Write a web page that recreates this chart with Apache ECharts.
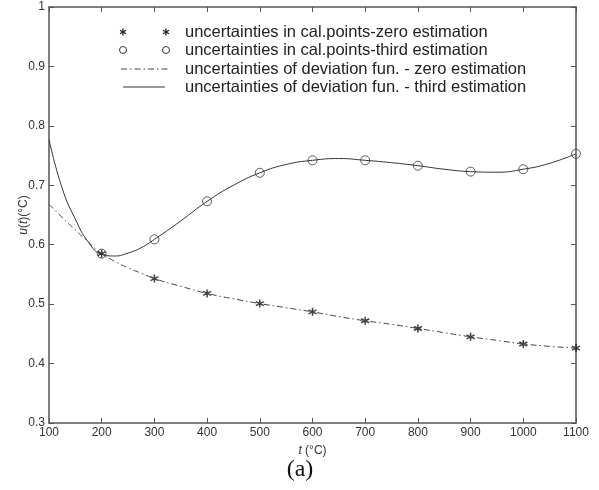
<!DOCTYPE html>
<html>
<head>
<meta charset="utf-8">
<script src="https://cdn.jsdelivr.net/npm/echarts@6/dist/echarts.min.js"></script>
<style>html,body{margin:0;padding:0;background:#fff}#c{width:599px;height:490px}</style>
</head>
<body>
<div id="c"></div>
<script>
// calibration points
var calT = [200, 300, 400, 500, 600, 700, 800, 900, 1000, 1100];
var zeroPts = [0.585, 0.543, 0.518, 0.501, 0.487, 0.472, 0.459, 0.445, 0.433, 0.426];
var thirdPts = [0.585, 0.609, 0.673, 0.721, 0.742, 0.742, 0.733, 0.723, 0.727, 0.753];
// deviation function curves
var curveT = [100, 125, 150, 175, 200, 225, 250, 275, 300, 350, 400, 450, 500, 550, 600, 650, 700, 750, 800, 850, 900, 950, 1000, 1050, 1100];
var zeroCurve = [0.668, 0.646, 0.625, 0.604, 0.585, 0.572, 0.561, 0.552, 0.543, 0.530, 0.518, 0.509, 0.501, 0.494, 0.487, 0.479, 0.472, 0.466, 0.459, 0.452, 0.445, 0.439, 0.433, 0.429, 0.426];
var thirdCurve = [0.777, 0.695, 0.643, 0.604, 0.584, 0.581, 0.586, 0.595, 0.609, 0.640, 0.673, 0.700, 0.721, 0.735, 0.742, 0.745, 0.742, 0.738, 0.733, 0.727, 0.723, 0.722, 0.727, 0.737, 0.753];
var xTicks = [100, 200, 300, 400, 500, 600, 700, 800, 900, 1000, 1100];
var yTicks = [0.3, 0.4, 0.5, 0.6, 0.7, 0.8, 0.9, 1];
var legendNames = [
  'uncertainties in cal.points-zero estimation',
  'uncertainties in cal.points-third estimation',
  'uncertainties of deviation fun. - zero estimation',
  'uncertainties of deviation fun. - third estimation'
];

function pairs(xs, ys) { return xs.map(function (x, i) { return [x, ys[i]]; }); }

var axisCol = '#555';
var lineCol = '#333';
var star = 'path://M0,-5L0,5M-4.3,-2.5L4.3,2.5M-4.3,2.5L4.3,-2.5';
var FONT = 'Liberation Sans, Arial';

var chart = echarts.init(document.getElementById('c'), null, {renderer: 'canvas'});

function xAx(pos, labels) {
  return {
    type: 'value', position: pos, min: xTicks[0], max: xTicks[xTicks.length - 1], interval: 100,
    axisLine: {show: true, onZero: false, lineStyle: {color: axisCol, width: 1.5}},
    axisTick: {show: true, inside: true, length: 5, lineStyle: {color: axisCol}},
    axisLabel: {show: labels, color: '#333', fontSize: 12, fontFamily: FONT, margin: 4,
      formatter: function (v) { return String(v); }},
    splitLine: {show: false},
    name: labels ? '{i|t} (°C)' : '', nameLocation: 'middle', nameGap: 22,
    nameTextStyle: {color: '#333', fontSize: 12, fontFamily: FONT,
      rich: {i: {fontStyle: 'italic', fontSize: 12, color: '#333', fontFamily: FONT}}}
  };
}
function yAx(pos, labels) {
  return {
    type: 'value', position: pos, min: yTicks[0], max: yTicks[yTicks.length - 1], interval: 0.1,
    axisLine: {show: true, onZero: false, lineStyle: {color: axisCol, width: 1.5}},
    axisTick: {show: true, inside: true, length: 5, lineStyle: {color: axisCol}},
    axisLabel: {show: labels, color: '#333', fontSize: 12, fontFamily: FONT, margin: 4,
      formatter: function (v) { return String(Math.round(v * 10) / 10); }},
    splitLine: {show: false},
    name: labels ? '{i|u}({i|t})(°C)' : '', nameLocation: 'middle', nameGap: 19, nameRotate: 90,
    nameMoveOverlap: false,
    nameTextStyle: {color: '#333', fontSize: 12, fontFamily: FONT,
      rich: {i: {fontStyle: 'italic', fontSize: 12, color: '#333', fontFamily: FONT}}}
  };
}

// legend graphics
var lgX = 185, lgY = [32, 50, 69, 87];
var g = [];
function starG(x, y) {
  return {type: 'group', x: x, y: y, children: [
    {type: 'line', shape: {x1: 0, y1: -3.5, x2: 0, y2: 3.5}, style: {stroke: '#222', lineWidth: 1.3}},
    {type: 'line', shape: {x1: -3, y1: -1.8, x2: 3, y2: 1.8}, style: {stroke: '#222', lineWidth: 1.3}},
    {type: 'line', shape: {x1: -3, y1: 1.8, x2: 3, y2: -1.8}, style: {stroke: '#222', lineWidth: 1.3}}
  ]};
}
g.push(starG(123, lgY[0]), starG(166, lgY[0]));
g.push({type: 'circle', shape: {cx: 123, cy: lgY[1], r: 3.5}, style: {fill: 'none', stroke: '#333', lineWidth: 1}});
g.push({type: 'circle', shape: {cx: 166, cy: lgY[1], r: 3.5}, style: {fill: 'none', stroke: '#333', lineWidth: 1}});
g.push({type: 'line', shape: {x1: 121, y1: lgY[2], x2: 170, y2: lgY[2]}, style: {stroke: '#444', lineWidth: 1, lineDash: [6, 3, 1.5, 3]}});
g.push({type: 'line', shape: {x1: 123, y1: lgY[3], x2: 165, y2: lgY[3]}, style: {stroke: '#333', lineWidth: 1}});
legendNames.forEach(function (n, i) {
  g.push({type: 'text', x: lgX, y: lgY[i], style: {text: n, fill: '#222', fontSize: 16.5, fontFamily: FONT, textVerticalAlign: 'middle'}});
});
g.push({type: 'text', x: 300, y: 470, style: {text: '(a)', fill: '#111', fontSize: 24, fontFamily: 'Liberation Serif, Times New Roman', textAlign: 'center', textVerticalAlign: 'middle'}});

chart.setOption({
  animation: false,
  backgroundColor: '#fff',
  grid: {left: 49, right: 23, top: 7, bottom: 67, containLabel: false, outerBoundsMode: 'none'},
  xAxis: [xAx('bottom', true), xAx('top', false)],
  yAxis: [yAx('left', true), yAx('right', false)],
  graphic: g,
  series: [
    {name: legendNames[2], type: 'line', data: pairs(curveT, zeroCurve), smooth: 0.5, showSymbol: false,
      lineStyle: {color: '#444', width: 1, type: [6, 3, 1.5, 3]}},
    {name: legendNames[3], type: 'line', data: pairs(curveT, thirdCurve), smooth: 0.5, showSymbol: false,
      lineStyle: {color: lineCol, width: 1}},
    {name: legendNames[0], type: 'scatter', data: pairs(calT, zeroPts), symbol: star, symbolSize: [8, 8],
      itemStyle: {color: 'none', borderColor: '#111', borderWidth: 1.5}},
    {name: legendNames[1], type: 'scatter', data: pairs(calT, thirdPts), symbol: 'circle', symbolSize: 9,
      itemStyle: {color: 'none', borderColor: '#333', borderWidth: 1}}
  ]
});
</script>
</body>
</html>
